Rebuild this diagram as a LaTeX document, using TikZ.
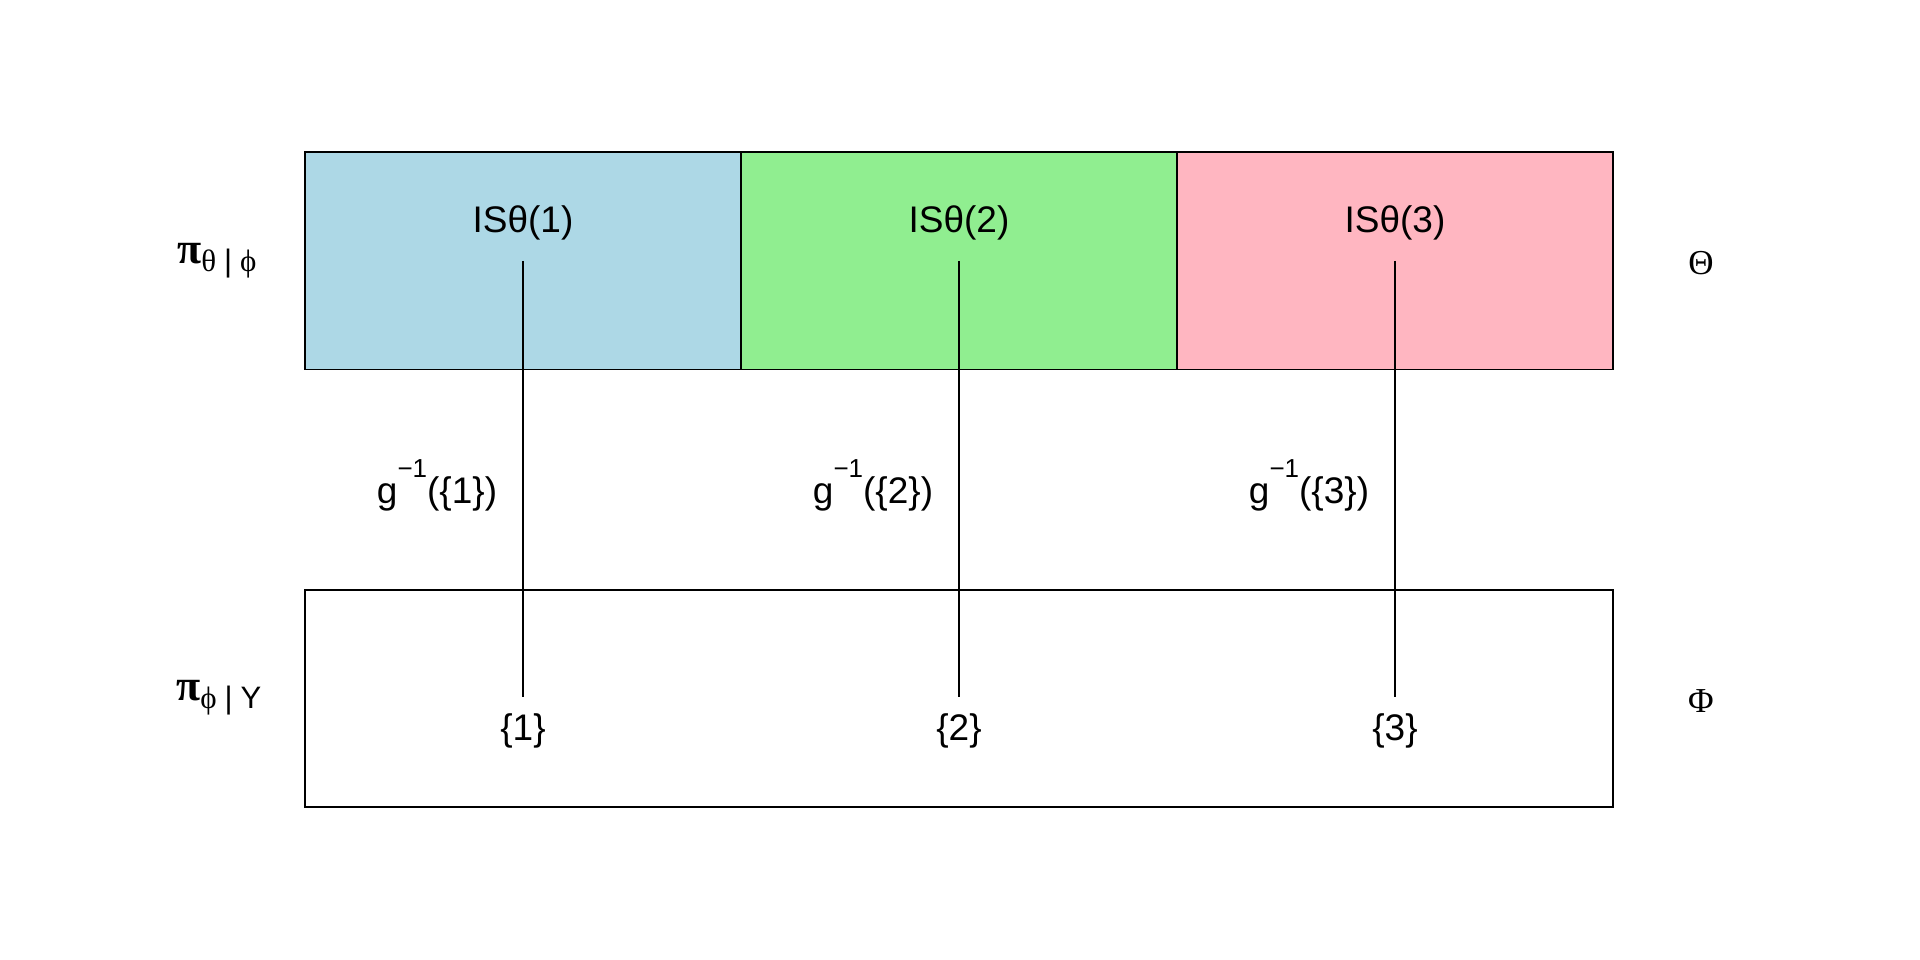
\documentclass[tikz,border=0pt]{standalone}
\usepackage{fontspec}
\setmainfont{Liberation Sans}
\newfontfamily\grk{Liberation Serif}
\definecolor{lblue}{HTML}{ADD8E6}
\definecolor{lgreen}{HTML}{90EE90}
\definecolor{lpink}{HTML}{FFB6C1}
\begin{document}
\begin{tikzpicture}[x=1pt,y=-1pt,
  cell/.style={draw=black,line width=1.6pt,minimum width=436pt,minimum height=217.5pt,inner sep=0pt,outer sep=0pt},
  lab/.style={anchor=base,inner sep=0pt,font=\fontsize{37}{37}\selectfont},
  greek/.style={anchor=base,inner sep=0pt,font=\grk\fontsize{35}{35}\selectfont},
  side/.style={anchor=base west,inner sep=0pt},
  conn/.style={draw=black,line width=1.6pt}]
\useasboundingbox[fill=white] (0,0) rectangle (1920,960);
% top row of cells
\node[cell,fill=lblue]  (c1) at (523,260.75) {};
\node[cell,fill=lgreen] (c2) at (959,260.75) {};
\node[cell,fill=lpink]  (c3) at (1395,260.75) {};
% bottom box
\node[cell,minimum width=1308pt,minimum height=217pt] (phi) at (959,698.5) {};
% labels in cells
\node[lab] (t1) at (523,233) {ISθ(1)};
\node[lab] (t2) at (959,233) {ISθ(2)};
\node[lab] (t3) at (1395,233) {ISθ(3)};
\node[lab] (s1) at (523,740) {\{1\}};
\node[lab] (s2) at (959,740) {\{2\}};
\node[lab] (s3) at (1395,740) {\{3\}};
% connectors
\foreach \i/\x in {1/523,2/959,3/1395}{
  \coordinate (u\i) at (\x,261);
  \coordinate (d\i) at (\x,697);
  \draw[conn] (u\i) -- (d\i);
}
% preimage labels
\foreach \i/\x in {1/437,2/873,3/1309}{
  \node[lab] (g\i) at (\x,503) {g\raisebox{26pt}{\fontsize{26}{26}\selectfont −1}(\{\i\})};
}
% side labels
\node[side] (pt) at (177,263) {{\grk\bfseries\fontsize{44}{44}\selectfont π}\raisebox{-8pt}{\fontsize{31}{31}\selectfont{\grk θ}\hspace{8pt}|\hspace{8pt}{\grk ϕ}}};
\node[side] (pp) at (176,700) {{\grk\bfseries\fontsize{44}{44}\selectfont π}\raisebox{-8pt}{\fontsize{31}{31}\selectfont{\grk ϕ}\hspace{8pt}|\hspace{8pt}Y}};
\node[greek] (Th) at (1701,275) {Θ};
\node[greek] (Ph) at (1701,712) {Φ};
\end{tikzpicture}
\end{document}
